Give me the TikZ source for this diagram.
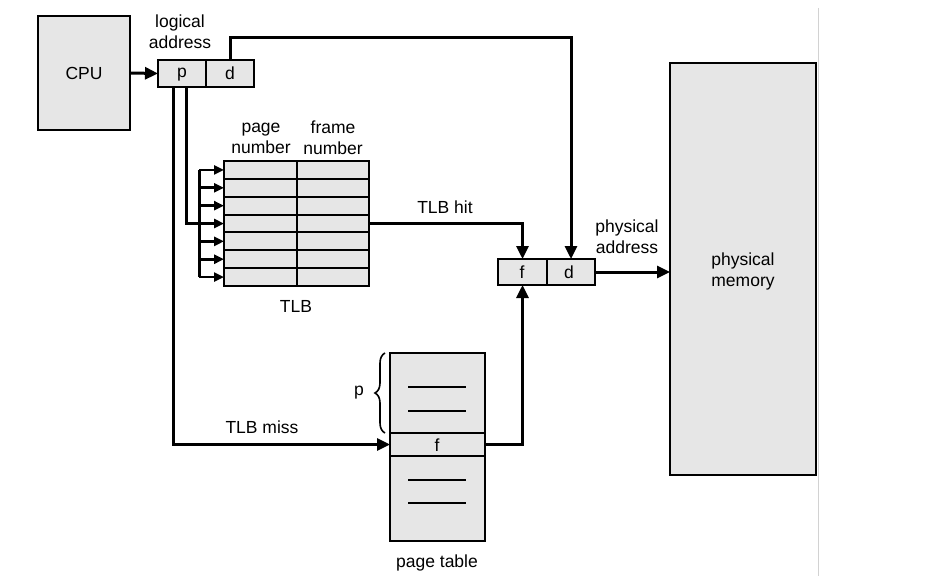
\documentclass[tikz,border=0pt]{standalone}
\usepackage{fontspec}
\setmainfont{Liberation Sans}
\usetikzlibrary{arrows.meta,decorations.pathreplacing}
\definecolor{boxgray}{RGB}{230,230,230}
\tikzset{
  box/.style={draw=black, line width=2pt, fill=boxgray, inner sep=0pt, outer sep=0pt},
  lbl/.style={inner sep=0pt, align=center, font=\fontsize{17.5}{21}\selectfont},
  wire/.style={line width=3pt},
  arr/.style={line width=3pt, -{Triangle[length=13pt,width=12pt]}},
  sarr/.style={line width=2.6pt, -{Triangle[length=10pt,width=9pt]}}
}
\begin{document}
\begin{tikzpicture}[x=1pt,y=-1pt]
\useasboundingbox (0,0) rectangle (939,580);
\draw[gray!35, line width=1pt] (818,8) -- (818,576);
% CPU
\node[box, minimum width=92pt, minimum height=114pt] (cpu) at (84,73) {};
\node[lbl] (cputxt) at (84,73) {CPU};
% logical address
\node[box, minimum width=48pt, minimum height=27pt] (lp) at (182,73.5) {};
\node[box, minimum width=48pt, minimum height=27pt] (ld) at (230,73.5) {};
\node[lbl] (lptxt) at (182,75) {p};
\node[lbl] (ldtxt) at (230,73) {d};
\node[lbl] (logtxt) at (180,32) {logical\\address};
\draw[arr] (cpu.east) -- (lp.west);
% TLB
\foreach \i in {1,...,7}{
  \node[box, minimum width=73pt, minimum height=17.86pt] (tlbL\i) at (260.5,{161+17.86*(\i-0.5)}) {};
  \node[box, minimum width=72pt, minimum height=17.86pt] (tlbR\i) at (333,{161+17.86*(\i-0.5)}) {};
}
\node[lbl] (pnum) at (261,138) {page\\number};
\node[lbl] (fnum) at (333,138) {frame\\number};
\node[lbl] (tlbtxt) at (296,306) {TLB};
\coordinate (bus) at (199,0);
\draw[wire] (tlbL1.west -| bus) -- (tlbL7.west -| bus);
\foreach \i in {1,...,7}{
  \draw[sarr] (tlbL\i.west -| bus) -- (tlbL\i.west);
}
\draw[wire] ([xshift=4pt]lp.south) |- (tlbL4.west -| bus);
% physical address
\node[box, minimum width=49pt, minimum height=26pt] (ff) at (522.5,272) {};
\node[box, minimum width=48pt, minimum height=26pt] (fd) at (571,272) {};
\node[lbl] (fftxt) at (522,272) {f};
\node[lbl] (fdtxt) at (569,272) {d};
\node[lbl] (phystxt) at (627,237) {physical\\address};
% physical memory
\node[box, minimum width=146pt, minimum height=412pt] (mem) at (743,269) {};
\node[lbl] (memtxt) at (743,271) {physical\\memory};
% page table
\node[box, minimum width=95pt, minimum height=80pt] (pttop) at (437.5,393) {};
\node[box, minimum width=95pt, minimum height=23pt] (ptf) at (437.5,444.5) {};
\node[box, minimum width=95pt, minimum height=85pt] (ptbot) at (437.5,498.5) {};
\node[lbl] (ptftxt) at (437,445) {f};
\node[lbl] (pttxt) at (437,563) {page table};
\foreach \y in {387,411,480,503}{
  \draw[line width=2pt] (408,\y) -- (466,\y);
}
\draw[line width=1.6pt, decorate, decoration={brace, amplitude=10pt}] (385,433) -- (385,353);
\node[lbl] (ptp) at (359,393) {p};
% connectors
\draw[arr] (ld.north) -- ++(0,-22) -| (fd.north);
\draw[arr] (tlbR4.east) -| (ff.north);
\node[lbl] (hittxt) at (445,207) {TLB hit};
\draw[arr] ([xshift=-9pt]lp.south) |- (ptf.west);
\node[lbl] (misstxt) at (262,427) {TLB miss};
\draw[arr] (ptf.east) -| (ff.south);
\draw[arr] (fd.east) -- (fd.east -| mem.west);
\end{tikzpicture}
\end{document}
